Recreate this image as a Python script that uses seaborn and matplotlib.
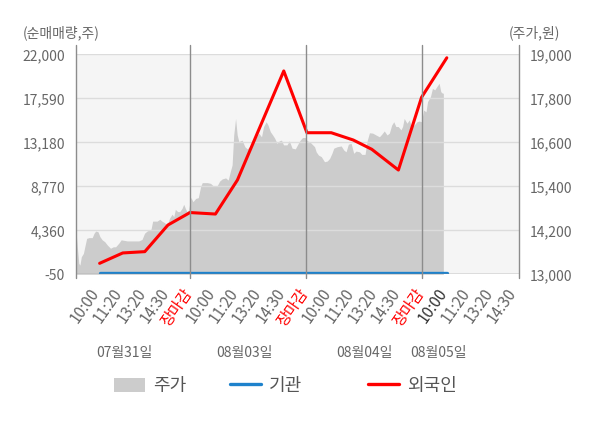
import numpy as np
import pandas as pd
import matplotlib
matplotlib.use("Agg")
import matplotlib.pyplot as plt
import matplotlib.transforms as mtransforms
from matplotlib.patches import Patch
from matplotlib.lines import Line2D
import seaborn as sns

# x positions are in "tick slots": each trading day spans 5 slots
# (10:00, 11:20, 13:20, 14:30, 장마감)
price_pos = [0.10, 0.14, 0.20, 0.25, 0.31, 0.40, 0.46, 0.54, 0.64, 0.78, 0.86, 0.93,
             1.03, 1.11, 1.21, 1.32, 1.43, 1.57, 1.69, 1.79, 1.93, 2.03, 2.29, 2.58,
             2.79, 2.93, 3.04, 3.15, 3.32, 3.39, 3.58, 3.70, 3.79, 3.90, 4.01, 4.12,
             4.23, 4.30, 4.37, 4.47, 4.56, 4.66, 4.73, 4.80, 4.87, 4.94, 5.04,
             5.13, 5.25, 5.36, 5.46, 5.53, 5.75, 5.89, 5.99, 6.18, 6.28, 6.39, 6.54,
             6.65, 6.75, 6.82, 6.89, 6.97, 7.04, 7.11, 7.25, 7.37, 7.47, 7.57, 7.69,
             7.83, 7.97, 8.09, 8.18, 8.29, 8.37, 8.47, 8.57, 8.66, 8.76, 8.86, 8.95,
             9.04, 9.19, 9.29, 9.41, 9.55, 9.66, 9.76, 9.86, 9.98,
             10.06, 10.16, 10.27, 10.38, 10.45, 10.55, 10.67, 10.81, 10.93, 11.03,
             11.13, 11.21, 11.36, 11.53, 11.64, 11.74, 11.84, 11.96, 12.07, 12.17,
             12.32, 12.42, 12.56, 12.65, 12.75, 12.89, 13.03, 13.18, 13.28, 13.39,
             13.51, 13.61, 13.71, 13.80, 13.89, 13.99, 14.11, 14.18, 14.25, 14.37,
             14.47, 14.54, 14.68, 14.80, 14.90, 15.00, 15.09, 15.19, 15.26, 15.38,
             15.47, 15.57, 15.66, 15.76, 15.83, 15.90, 15.94]
price = [14030, 13720, 13300, 13250, 13480, 13570, 13750, 13980, 14000, 14000, 14120, 14180,
         14160, 14030, 13940, 13890, 13800, 13710, 13750, 13750, 13850, 13940, 13910, 13910,
         13910, 13950, 14120, 14180, 14230, 14450, 14450, 14500, 14450, 14410, 14340, 14530,
         14640, 14570, 14770, 14710, 14710, 14800, 14910, 14800, 14710, 14750, 15100,
         14980, 15070, 15090, 15390, 15500, 15500, 15480, 15420, 15420, 15540, 15600, 15630,
         15570, 15820, 15980, 16800, 17250, 16800, 16620, 16660, 16480, 16420, 16480, 16570,
         16710, 16850, 16750, 17030, 17160, 17070, 16890, 16800, 16710, 16570, 16640, 16660,
         16530, 16530, 16640, 16440, 16420, 16550, 16660, 16730, 16730,
         16640, 16620, 16550, 16480, 16340, 16250, 16210, 16070, 16090, 16160,
         16300, 16440, 16480, 16500, 16390, 16340, 16550, 16570, 16300, 16360,
         16340, 16270, 16270, 16640, 16860, 16850, 16800, 16750, 16820, 16910,
         16800, 16850, 17070, 17160, 17030, 17030, 16940, 17030, 17250, 17120,
         17210, 17070, 17070, 17160, 17180, 17160, 17480, 17430, 17710, 17840,
         18070, 18030, 18120, 18210, 17980, 17940, 17940]

flow_pos = [1.10, 2.10, 3.05, 4.05, 5.00, 6.10, 7.05, 9.05, 10.05, 11.10, 12.05, 12.85,
            14.00, 15.00, 16.09]
foreign = [1050, 2090, 2220, 4890, 6140, 5990, 9400, 20330, 14140, 14140, 13410, 12480,
           10400, 17690, 21650]
institution = [120, 120, 120, 120, 120, 120, 120, 120, 120, 120, 120, 120, 120, 120, 120]

tick_names = ["10:00", "11:20", "13:20", "14:30", "장마감"]
day_names = ["07월31일", "08월03일", "08월04일", "08월05일"]
day_label_pos = [2.19, 7.35, 12.52, 15.74]
left_ticks = [-50, 4360, 8770, 13180, 17590, 22000]
right_ticks = [13000, 14200, 15400, 16600, 17800, 19000]

sns.set_theme(style="white")
plt.rcParams["font.family"] = ["Noto Sans CJK KR", "DejaVu Sans"]

text_gray = "#666666"
line_gray = "#8c8c8c"

fig = plt.figure(figsize=(6.0, 4.28), dpi=100)
ax = fig.add_axes([76 / 600, 1 - 274.3 / 428, 444 / 600, 220 / 428])
ax2 = ax.twinx()

# price area (right scale) on base axes so it stays behind the lines
ax.set_facecolor("#f5f5f5")
ax.fill_between(price_pos, 13000, price, color="#cccccc", linewidth=0, zorder=1)
ax.set_ylim(13000, 19000)
ax.set_yticks(right_ticks)
ax.set_yticklabels([f"{v:,}" for v in right_ticks])
ax.yaxis.tick_right()
ax.set_axisbelow("line")
ax.grid(axis="y", color="#dcdcdc", linewidth=1, zorder=1.5)
ax.grid(axis="x", visible=False)

flows = pd.DataFrame({"pos": flow_pos, "foreign": foreign, "institution": institution})
sns.lineplot(data=flows, x="pos", y="institution", ax=ax2, color="#1e82cc",
             linewidth=2.4, zorder=3)
sns.lineplot(data=flows, x="pos", y="foreign", ax=ax2, color="#ff0000",
             linewidth=2.2, zorder=4)
ax2.set_ylim(-50, 22000)
ax2.set_yticks(left_ticks)
ax2.set_yticklabels([f"{v:,}" for v in left_ticks])
ax2.yaxis.tick_left()
ax2.set_xlabel("")
ax2.set_ylabel("")
ax2.grid(False)

xmin, xmax = 0.08, 19.2
ax.set_xlim(xmin, xmax)

# labels sit a little right of their slot, as in the source chart
tick_pos = [i + 0.25 for i in range(1, 20)]
tick_labels = [tick_names[i % 5] for i in range(19)]
ax.set_xticks(tick_pos)
ax.set_xticklabels(tick_labels, rotation=55, ha="right", fontsize=11)
ax.set_xlabel("")
for i, lbl in enumerate(ax.get_xticklabels()):
    if lbl.get_text() == "장마감":
        lbl.set_color("red")
    elif i == 15:
        lbl.set_color("#333333")
    else:
        lbl.set_color(text_gray)

for a in (ax, ax2):
    a.tick_params(axis="y", length=0, labelsize=10, colors=text_gray)
    for s in a.spines.values():
        s.set_visible(False)
ax.tick_params(axis="x", length=0, pad=8)
ax.tick_params(axis="y", pad=7)
ax2.tick_params(axis="y", pad=8)

# day separators and side frame lines, slightly overhanging the plot
for xv in [xmin, 5, 10, 15, xmax]:
    ax2.axvline(xv, ymin=-0.017, ymax=1.042, color=line_gray, linewidth=1,
                clip_on=False, zorder=5)
ax2.axhline(-50, color=line_gray, linewidth=1, zorder=5)

trans = mtransforms.blended_transform_factory(ax.transData, ax.transAxes)
for xp, name in zip(day_label_pos, day_names):
    ax.text(xp, -0.358, name, transform=trans, ha="center", va="center",
            fontsize=10, color=text_gray)

fig.text(23 / 600, 1 - 33 / 428, "(순매매량,주)", ha="left", va="center",
         fontsize=10, color=text_gray)
fig.text(509 / 600, 1 - 33 / 428, "(주가,원)", ha="left", va="center",
         fontsize=10, color=text_gray)

handles = [Patch(facecolor="#cccccc", edgecolor="none"),
           Line2D([], [], color="#1e82cc", linewidth=2.4),
           Line2D([], [], color="#ff0000", linewidth=2.4)]
names = ["주가", "기관", "외국인"]
legend_x = [114, 230, 368]
for h, n, lx in zip(handles, names, legend_x):
    leg = fig.legend(handles=[h], labels=[n], loc="center left",
                     bbox_to_anchor=(lx / 600, 1 - 386 / 428), frameon=False,
                     fontsize=13, handlelength=1.7, handleheight=0.8,
                     handletextpad=0.45, borderpad=0, borderaxespad=0)
    for t in leg.get_texts():
        t.set_color("#555555")

fig.savefig("out.png", dpi=100)
